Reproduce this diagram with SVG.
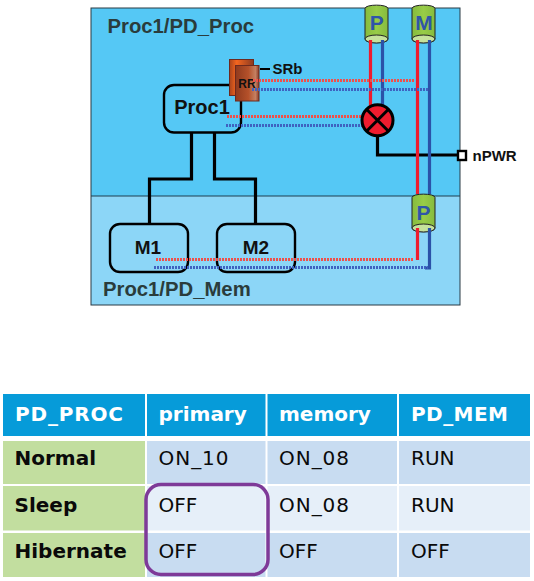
<svg xmlns="http://www.w3.org/2000/svg" width="534" height="581" viewBox="0 0 534 581">
<style>
.lbl{font-family:"Liberation Sans",Arial,sans-serif;font-weight:700;fill:#111}
.dom{font-family:"Liberation Sans",Arial,sans-serif;font-weight:700;font-size:20.300px;fill:#2a3c3c}
.box{fill:none;stroke:#000;stroke-width:2.4}
.wire{fill:none;stroke:#000;stroke-width:3.2}
.red{fill:none;stroke:#ee1c2e;stroke-width:3.2}
.blue{fill:none;stroke:#2b52a8;stroke-width:3.2}
.rd{fill:none;stroke:#f0504a;stroke-width:2.800;stroke-dasharray:2 1}
.bd{fill:none;stroke:#3f62c0;stroke-width:2.800;stroke-dasharray:2 1}
.cyl{font-family:"Liberation Sans",Arial,sans-serif;font-weight:700;font-size:21px;fill:#2f55a8;text-anchor:middle}
.th{font-family:"DejaVu Sans",Verdana,sans-serif;font-weight:700;font-size:20px;fill:#fff}
.rh{font-family:"DejaVu Sans",Verdana,sans-serif;font-weight:700;font-size:20px;fill:#0a0a0a}
.td{font-family:"DejaVu Sans",Verdana,sans-serif;font-size:20px;fill:#0a0a0a}
.hc{fill:#069bd9}.gc{fill:#c2de9f}.dc{fill:#c8dcf1}.lc{fill:#e6eff9}
</style>
<defs>
<linearGradient id="rrb" x1="0" x2="1" y1="0" y2="0"><stop offset="0" stop-color="#a8431c"/><stop offset="0.3" stop-color="#f4661f"/><stop offset="1" stop-color="#8a3a22"/></linearGradient>
<linearGradient id="rrf" x1="0" x2="1" y1="0" y2="0"><stop offset="0" stop-color="#8f3a1e"/><stop offset="0.55" stop-color="#b5512a"/><stop offset="0.85" stop-color="#c48062"/><stop offset="1" stop-color="#8a3a26"/></linearGradient>
<linearGradient id="cg" x1="0" x2="1" y1="0" y2="0"><stop offset="0" stop-color="#86bb3e"/><stop offset="0.5" stop-color="#98cc48"/><stop offset="1" stop-color="#86bb3e"/></linearGradient>
<g id="cylshape">
<path d="M0 4.500C0 0 23 0 23 4.500V35C23 40 0 40 0 35Z" fill="url(#cg)" stroke="#222" stroke-width="1"/>
<ellipse cx="11.500" cy="35" rx="11.500" ry="4" fill="#c6e29c" stroke="#222" stroke-width="1"/>
</g>
</defs>
<g id="domains">
<rect id="pd-proc" x="91" y="8" width="369" height="188" fill="#55c8f5"/>
<rect id="pd-mem" x="91" y="196" width="369" height="109" fill="#8cd6f7"/>
<path d="M91 196H460" stroke="#1f3f50" stroke-width="1" fill="none"/>
<rect x="91" y="8" width="369" height="297" fill="none" stroke="#2a3a44" stroke-width="1"/>
<text class="dom" x="107.500" y="32.500">Proc1/PD_Proc</text>
<text class="dom" x="103" y="296">Proc1/PD_Mem</text>
</g>
<g id="connectors">
<path class="wire" d="M191.500 133V179H149.500V224M214.500 133V179H255.500V224"/>
<path class="wire" d="M377.500 136V155H457"/>
<path d="M260 69H270" stroke="#000" stroke-width="2" fill="none"/>
</g>
<g id="proc1"><rect class="box" x="164" y="85" width="77" height="47.500" rx="10"/><text class="lbl" font-size="20" x="202" y="114" text-anchor="middle">Proc1</text></g>
<g id="m1"><rect class="box" x="110" y="224" width="78" height="48" rx="10"/><text class="lbl" font-size="19" x="148" y="254" text-anchor="middle">M1</text></g>
<g id="m2"><rect class="box" x="217" y="224" width="78" height="48" rx="10"/><text class="lbl" font-size="19" x="256" y="254" text-anchor="middle">M2</text></g>
<g id="rr">
<rect x="229.500" y="59.500" width="24" height="36" fill="url(#rrb)" stroke="#6e2a1e" stroke-width="1"/>
<rect x="235.500" y="65.500" width="23.500" height="35.500" fill="url(#rrf)" stroke="#6e2a1e" stroke-width="1"/>
<text class="lbl" font-size="12" x="247" y="88" text-anchor="middle">RR</text>
</g>
<text class="lbl" id="srb" font-size="15" x="272.500" y="73.500">SRb</text>
<g id="p-top"><use href="#cylshape" x="365" y="4"/><text class="cyl" x="376.700" y="30">P</text></g>
<g id="m-top"><use href="#cylshape" x="412" y="4"/><text class="cyl" font-size="20" x="424" y="30">M</text></g>
<g id="p-bottom"><use href="#cylshape" x="412" y="193"/><text class="cyl" x="423.500" y="220">P</text></g>
<g id="rails">
<path class="red" d="M370.500 40V108M417.500 40V194M417.500 228V260"/>
<path class="blue" d="M382.500 40V108M429.500 40V194M429.500 228V268H425"/>
<path class="rd" d="M253 80.500H415M227 116.500H362M156 259.500H414"/>
<path class="bd" d="M252 89.500H429M226 125.500H362M154 267.500H428"/>
</g>
<g id="switch"><circle cx="377.500" cy="120.300" r="15.500" fill="#ee1c2e" stroke="#000" stroke-width="3"/><path d="M366.500 109.300L388.500 131.300M388.500 109.300L366.500 131.300" stroke="#000" stroke-width="3" fill="none"/></g>
<g id="npwr"><rect x="458" y="151" width="8" height="9" fill="#fff" stroke="#000" stroke-width="2.400"/><text class="lbl" font-size="15" x="472.500" y="161">nPWR</text></g>
<g id="table">
<rect class="hc" x="3" y="394" width="142" height="42"/><rect class="hc" x="147" y="394" width="118.500" height="42"/><rect class="hc" x="267.500" y="394" width="129.500" height="42"/><rect class="hc" x="399" y="394" width="131" height="42"/>
<rect class="gc" x="3" y="441" width="142" height="43"/><rect class="dc" x="147" y="441" width="118.500" height="43"/><rect class="dc" x="267.500" y="441" width="129.500" height="43"/><rect class="dc" x="399" y="441" width="131" height="43"/>
<rect class="gc" x="3" y="486" width="142" height="44.500"/><rect class="lc" x="147" y="486" width="118.500" height="44.500"/><rect class="lc" x="267.500" y="486" width="129.500" height="44.500"/><rect class="lc" x="399" y="486" width="131" height="44.500"/>
<rect class="gc" x="3" y="533" width="142" height="44"/><rect class="dc" x="147" y="533" width="118.500" height="44"/><rect class="dc" x="267.500" y="533" width="129.500" height="44"/><rect class="dc" x="399" y="533" width="131" height="44"/>
<text class="th" x="15" y="420.500" textLength="108">PD_PROC</text><text class="th" x="158.500" y="420.500">primary</text><text class="th" x="279" y="420.500">memory</text><text class="th" x="411" y="420.500" textLength="97">PD_MEM</text>
<text class="rh" x="14.500" y="465">Normal</text><text class="td" x="158.500" y="465" textLength="70">ON_10</text><text class="td" x="279" y="465" textLength="70">ON_08</text><text class="td" x="411" y="465">RUN</text>
<text class="rh" x="14.500" y="511.500">Sleep</text><text class="td" x="158.500" y="511.500">OFF</text><text class="td" x="279" y="511.500" textLength="70">ON_08</text><text class="td" x="411" y="511.500">RUN</text>
<text class="rh" x="14.500" y="557.500">Hibernate</text><text class="td" x="158.500" y="557.500">OFF</text><text class="td" x="279" y="557.500">OFF</text><text class="td" x="411" y="557.500">OFF</text>
</g>
<rect id="highlight" x="146" y="484.500" width="122" height="90" rx="15" fill="none" stroke="#7e3a98" stroke-width="3.500"/>
</svg>
